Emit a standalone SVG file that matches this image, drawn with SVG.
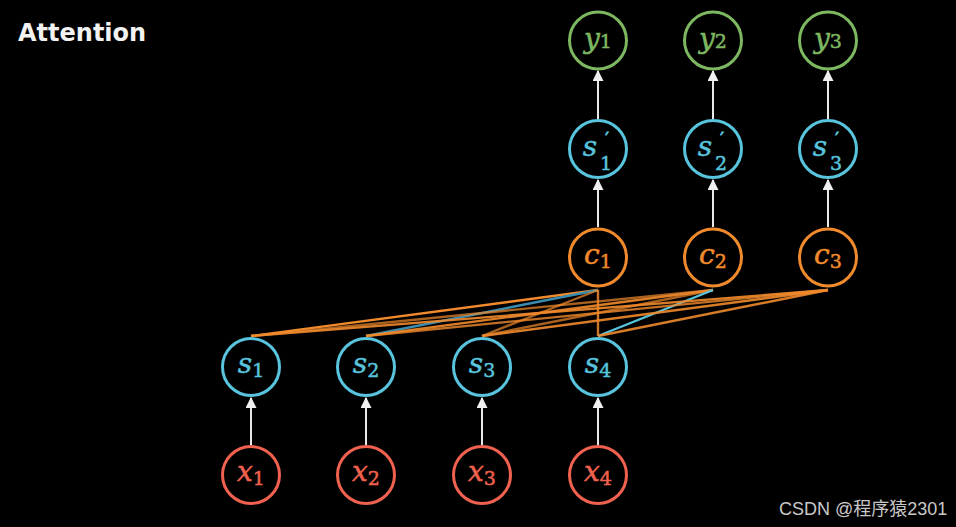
<svg xmlns="http://www.w3.org/2000/svg" width="956" height="527" viewBox="0 0 956 527">
<defs>
<marker id="ah" viewBox="0 0 10 10" refX="9" refY="5" markerWidth="11" markerHeight="11" markerUnits="userSpaceOnUse" orient="auto">
<path d="M0,0 L10,5 L0,10 Z" fill="#f0f0f0"/>
</marker>
<style>
.n{fill:none;stroke-width:3}
.g{stroke:#7db861}.b{stroke:#58c4dd}.o{stroke:#f08a2c}.r{stroke:#f0624f}
.t{font-family:"DejaVu Serif","Liberation Serif",serif;font-size:28px;text-anchor:middle;stroke-width:0.5}
.v{font-style:italic}
.sub{font-size:19px}
.pr{font-size:16px;stroke-width:0.8}
.tg{fill:#7db861;stroke:#7db861}.tb{fill:#58c4dd;stroke:#58c4dd}.to{fill:#f08a2c;stroke:#f08a2c}.tr{fill:#f0624f;stroke:#f0624f}
.a{stroke:#e8e8e8;stroke-width:2;fill:none}
.l{stroke:#f08a2c;stroke-width:2.4;fill:none}
</style>
</defs>
<rect width="956" height="527" fill="#000"/>
<text x="18" y="41" font-family="'DejaVu Sans',sans-serif" font-size="24" font-weight="bold" fill="#f2f2f2">Attention</text>

<g id="connectors">
<line class="l" x1="598" y1="290" x2="251" y2="336"/>
<line class="l" x1="598" y1="290" x2="366" y2="336" style="stroke:#3a8db0"/>
<line class="l" x1="598" y1="290" x2="482" y2="336" stroke-opacity="0.7"/>
<line class="l" x1="598" y1="290" x2="598" y2="336" stroke-opacity="0.85"/>
<line class="l" x1="713" y1="290" x2="251" y2="336" stroke-opacity="0.7"/>
<line class="l" x1="713" y1="290" x2="366" y2="336" stroke-opacity="0.9"/>
<line class="l" x1="713" y1="290" x2="482" y2="336" stroke-opacity="0.7"/>
<line class="l" x1="713" y1="290" x2="598" y2="336" style="stroke:#58c4dd"/>
<line class="l" x1="828" y1="290" x2="251" y2="336" stroke-opacity="0.9"/>
<line class="l" x1="828" y1="290" x2="366" y2="336" stroke-opacity="0.8"/>
<line class="l" x1="828" y1="290" x2="482" y2="336" stroke-opacity="0.9"/>
<line class="l" x1="828" y1="290" x2="598" y2="336" stroke-opacity="0.9"/>
<line class="a" x1="251" y1="445" x2="251" y2="398" marker-end="url(#ah)"/>
<line class="a" x1="366" y1="445" x2="366" y2="398" marker-end="url(#ah)"/>
<line class="a" x1="482" y1="445" x2="482" y2="398" marker-end="url(#ah)"/>
<line class="a" x1="598" y1="445" x2="598" y2="398" marker-end="url(#ah)"/>
<line class="a" x1="598" y1="227" x2="598" y2="180" marker-end="url(#ah)"/>
<line class="a" x1="713" y1="227" x2="713" y2="180" marker-end="url(#ah)"/>
<line class="a" x1="828" y1="227" x2="828" y2="180" marker-end="url(#ah)"/>
<line class="a" x1="598" y1="119" x2="598" y2="71" marker-end="url(#ah)"/>
<line class="a" x1="713" y1="119" x2="713" y2="71" marker-end="url(#ah)"/>
<line class="a" x1="828" y1="119" x2="828" y2="71" marker-end="url(#ah)"/>
</g>

<g id="y1"><circle class="n g" cx="598" cy="40.5" r="28.5"/><text class="t tg" x="598" y="48"><tspan class="v">y</tspan><tspan class="sub">1</tspan></text></g>
<g id="y2"><circle class="n g" cx="713" cy="40.5" r="28.5"/><text class="t tg" x="713" y="48"><tspan class="v">y</tspan><tspan class="sub">2</tspan></text></g>
<g id="y3"><circle class="n g" cx="828" cy="40.5" r="28.5"/><text class="t tg" x="828" y="48"><tspan class="v">y</tspan><tspan class="sub">3</tspan></text></g>

<g id="sp1"><circle class="n b" cx="598" cy="149" r="28.5"/><text class="t tb v" x="590" y="156">s</text><text class="t tb pr" x="607" y="144">′</text><text class="t tb sub" x="606" y="170">1</text></g>
<g id="sp2"><circle class="n b" cx="713" cy="149" r="28.5"/><text class="t tb v" x="705" y="156">s</text><text class="t tb pr" x="722" y="144">′</text><text class="t tb sub" x="721" y="170">2</text></g>
<g id="sp3"><circle class="n b" cx="828" cy="149" r="28.5"/><text class="t tb v" x="820" y="156">s</text><text class="t tb pr" x="837" y="144">′</text><text class="t tb sub" x="836" y="170">3</text></g>

<g id="c1"><circle class="n o" cx="598" cy="257.5" r="28.5"/><text class="t to" x="598" y="264"><tspan class="v">c</tspan><tspan class="sub" dy="4">1</tspan></text></g>
<g id="c2"><circle class="n o" cx="713" cy="257.5" r="28.5"/><text class="t to" x="713" y="264"><tspan class="v">c</tspan><tspan class="sub" dy="4">2</tspan></text></g>
<g id="c3"><circle class="n o" cx="828" cy="257.5" r="28.5"/><text class="t to" x="828" y="264"><tspan class="v">c</tspan><tspan class="sub" dy="4">3</tspan></text></g>

<g id="s1"><circle class="n b" cx="251" cy="367" r="28.5"/><text class="t tb" x="251" y="373"><tspan class="v">s</tspan><tspan class="sub" dy="4">1</tspan></text></g>
<g id="s2"><circle class="n b" cx="366" cy="367" r="28.5"/><text class="t tb" x="366" y="373"><tspan class="v">s</tspan><tspan class="sub" dy="4">2</tspan></text></g>
<g id="s3"><circle class="n b" cx="482" cy="367" r="28.5"/><text class="t tb" x="482" y="373"><tspan class="v">s</tspan><tspan class="sub" dy="4">3</tspan></text></g>
<g id="s4"><circle class="n b" cx="598" cy="367" r="28.5"/><text class="t tb" x="598" y="373"><tspan class="v">s</tspan><tspan class="sub" dy="4">4</tspan></text></g>

<g id="x1"><circle class="n r" cx="251" cy="475" r="28.5"/><text class="t tr" x="251" y="481"><tspan class="v">x</tspan><tspan class="sub" dy="4">1</tspan></text></g>
<g id="x2"><circle class="n r" cx="366" cy="475" r="28.5"/><text class="t tr" x="366" y="481"><tspan class="v">x</tspan><tspan class="sub" dy="4">2</tspan></text></g>
<g id="x3"><circle class="n r" cx="482" cy="475" r="28.5"/><text class="t tr" x="482" y="481"><tspan class="v">x</tspan><tspan class="sub" dy="4">3</tspan></text></g>
<g id="x4"><circle class="n r" cx="598" cy="475" r="28.5"/><text class="t tr" x="598" y="481"><tspan class="v">x</tspan><tspan class="sub" dy="4">4</tspan></text></g>

<text x="779" y="515" font-family="'Liberation Sans','Noto Sans CJK SC',sans-serif" font-size="18" fill="#c8c8c8">CSDN @程序猿2301</text>
</svg>
